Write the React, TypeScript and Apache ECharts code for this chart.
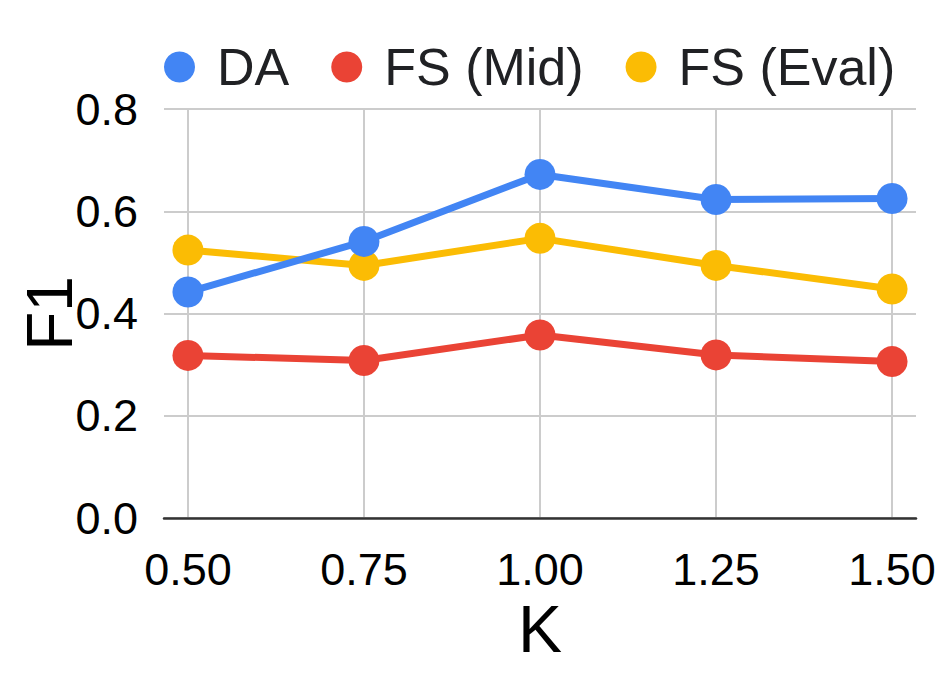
import React, { useEffect, useRef } from "react";
import * as echarts from "echarts";

const kValues = [0.5, 0.75, 1.0, 1.25, 1.5];
const seriesNames = ["DA", "FS (Mid)", "FS (Eval)"];
const daValues = [0.442, 0.541, 0.672, 0.623, 0.625];
const fsMidValues = [0.318, 0.308, 0.358, 0.319, 0.306];
const fsEvalValues = [0.524, 0.494, 0.547, 0.494, 0.448];
const colors = ["#4285F4", "#EA4335", "#FBBC04"];

const FONT = "Liberation Sans, Arial, sans-serif";

export default function App() {
  const ref = useRef<HTMLDivElement>(null);
  useEffect(() => {
    document.body.style.margin = "0";
    const chart = echarts.init(ref.current!, null, { renderer: "svg" });
    const allValues = [daValues, fsMidValues, fsEvalValues];
    chart.setOption({
      animation: false,
      backgroundColor: "#ffffff",
      textStyle: { fontFamily: FONT },
      legend: {
        top: 36,
        left: 159,
        icon: "circle",
        itemWidth: 31,
        itemHeight: 31,
        itemGap: 42,
        textStyle: {
          fontSize: 52,
          color: "#202124",
          fontFamily: FONT,
          padding: [0, 0, 0, 17],
        },
        data: seriesNames,
      },
      grid: {
        left: 164,
        right: 36,
        top: 109,
        bottom: 155,
        containLabel: false,
        outerBoundsMode: "none",
      },
      xAxis: {
        type: "value",
        min: 0.466,
        max: 1.534,
        name: "K",
        nameLocation: "middle",
        nameGap: 78,
        nameMoveOverlap: false,
        nameTextStyle: { fontSize: 66, color: "#000", fontFamily: FONT },
        axisLine: { show: true, lineStyle: { color: "#333", width: 2.5 } },
        axisTick: { show: false, customValues: kValues },
        axisLabel: {
          customValues: kValues,
          fontSize: 45,
          color: "#000",
          margin: 29,
          fontFamily: FONT,
          formatter: (v: number) => v.toFixed(2),
        },
        splitLine: { show: true, lineStyle: { color: "#cccccc", width: 2 } },
      },
      yAxis: {
        type: "value",
        min: 0,
        max: 0.8,
        interval: 0.2,
        name: "F1",
        nameLocation: "middle",
        nameRotate: 90,
        nameGap: 82,
        nameMoveOverlap: false,
        nameTextStyle: { fontSize: 64, color: "#000", fontFamily: FONT },
        axisLine: { show: false },
        axisTick: { show: false },
        axisLabel: {
          fontSize: 45,
          color: "#000",
          margin: 26,
          fontFamily: FONT,
          formatter: (v: number) => v.toFixed(1),
        },
        splitLine: { show: true, lineStyle: { color: "#cccccc", width: 2 } },
      },
      series: seriesNames.map((name, i) => ({
        name,
        type: "line",
        data: kValues.map((k, j) => [k, allValues[i][j]]),
        symbol: "circle",
        symbolSize: 31,
        showSymbol: true,
        lineStyle: { color: colors[i], width: 7 },
        itemStyle: { color: colors[i] },
        z: 3 - i,
      })),
    });
    return () => chart.dispose();
  }, []);
  return <div ref={ref} style={{ width: 952, height: 673 }} />;
}
